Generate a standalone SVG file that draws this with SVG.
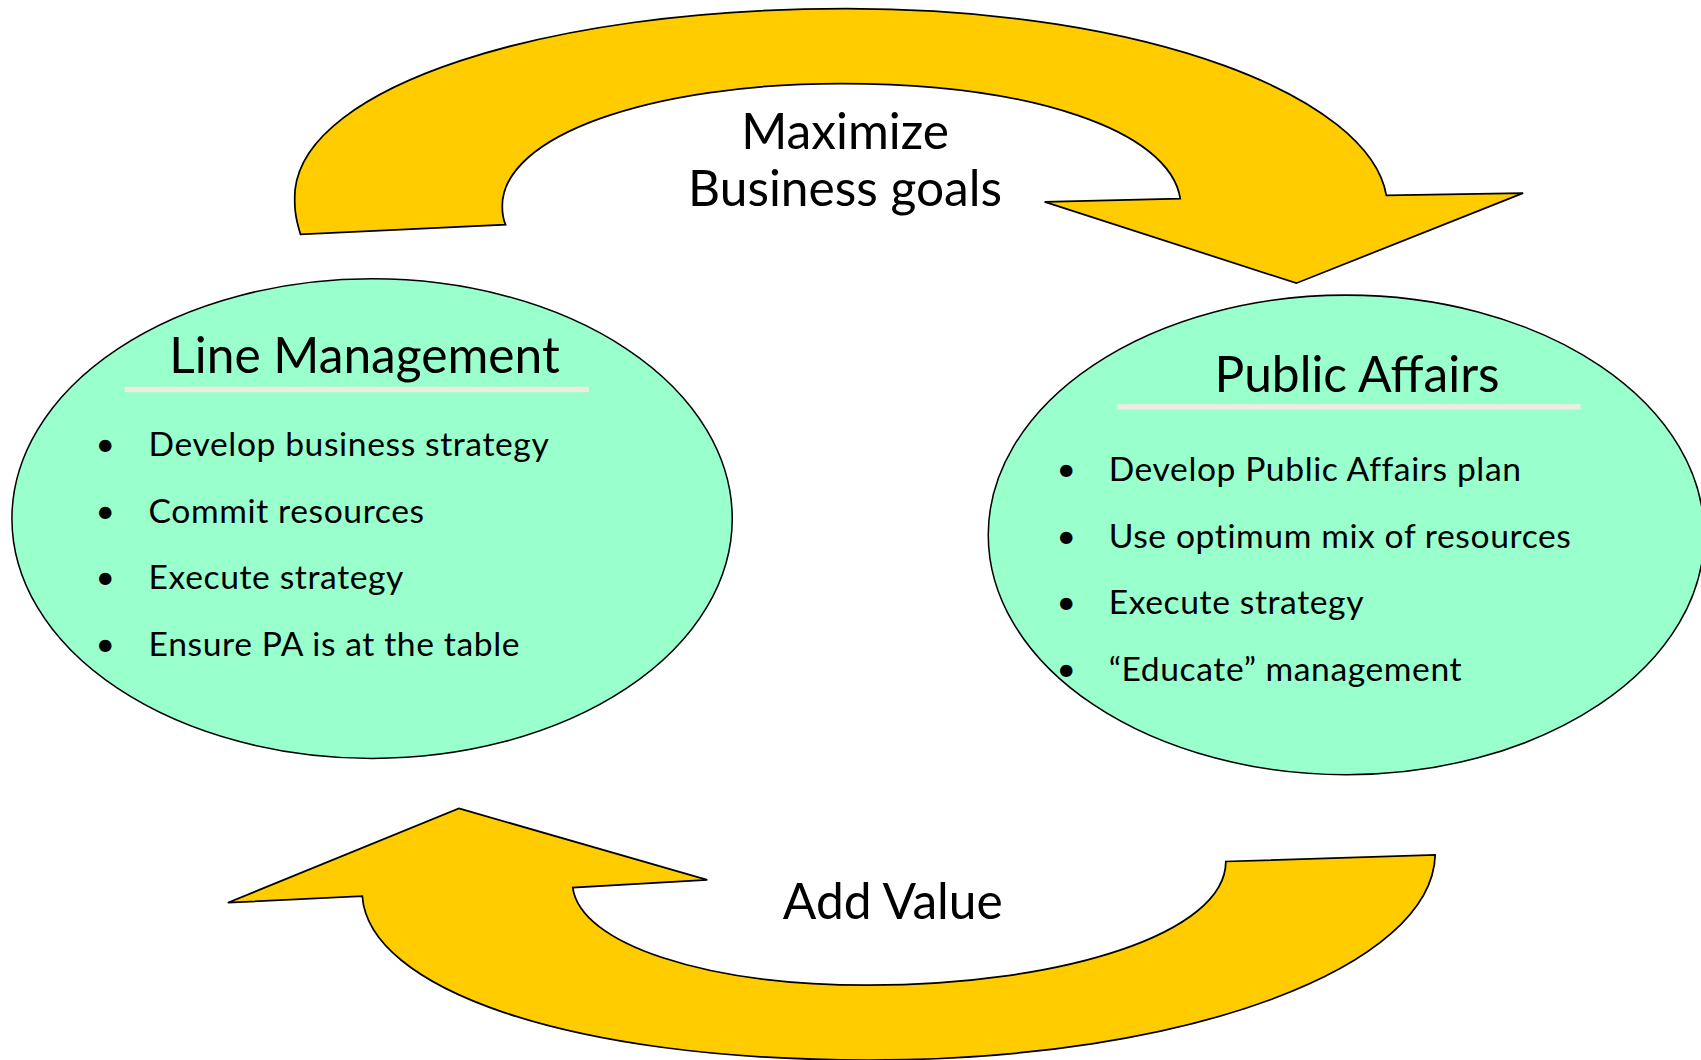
<svg xmlns="http://www.w3.org/2000/svg" width="1701" height="1060" viewBox="0 0 1701 1060">
<style>
.arrow{fill:#FFCC00;stroke:#000;stroke-width:1.6;stroke-linejoin:miter}
.oval{fill:#99FFCC;stroke:#000;stroke-width:1.4}
.bar{fill:#EEECE1}
.t{font-family:Lato,"Liberation Sans",sans-serif;fill:#000}
.big{font-size:45.8px;text-anchor:middle}
.item{font-size:31px;letter-spacing:0.55px}
</style>
<rect width="1701" height="1060" fill="#fff"/>
<g transform="scale(1.0848,1.0850)">
<g id="connectors">
<g id="arrow-maximize">
<path class="arrow" d="M277,216 C272,200 271,190 272,175 C282,80 500,8 780,8 C1060,8 1262,90 1278,180 L1404,178 L1195,261 L963,186 L1088,183 C1078,120 950,77 776,77 C600,77 463,125 463,190 Q463,200 466,207 Z"/>
<text class="t big" x="779" y="137">Maximize</text>
<text class="t big" x="779" y="190">Business goals</text>
</g>
<g id="arrow-addvalue">
<path class="arrow" d="M423,745 L652,811 L528,818 C535,870 650,908 800,908 C980,908 1130,860 1130,794 L1323,788 C1320,890 1100,977 800,977 C520,977 340,910 334,826 L210,832 Z"/>
<text class="t big" x="823" y="847">Add Value</text>
</g>
</g>
<g id="line-management">
<ellipse class="oval" cx="343" cy="478" rx="332" ry="221"/>
<rect class="bar" x="115" y="356.5" width="428" height="5"/>
<text class="t big" x="336" y="344">Line Management</text>
<text class="t item" x="88" y="420">•</text><text class="t item" x="137" y="420">Develop business strategy</text>
<text class="t item" x="88" y="482">•</text><text class="t item" x="137" y="482">Commit resources</text>
<text class="t item" x="88" y="543">•</text><text class="t item" x="137" y="543">Execute strategy</text>
<text class="t item" x="88" y="605">•</text><text class="t item" x="137" y="605">Ensure PA is at the table</text>
</g>
<g id="public-affairs">
<ellipse class="oval" cx="1241" cy="493" rx="330" ry="221"/>
<rect class="bar" x="1030" y="372.5" width="427" height="5"/>
<text class="t big" x="1251" y="361">Public Affairs</text>
<text class="t item" x="974" y="443">•</text><text class="t item" x="1022" y="443">Develop Public Affairs plan</text>
<text class="t item" x="974" y="505">•</text><text class="t item" x="1022" y="505">Use optimum mix of resources</text>
<text class="t item" x="974" y="566">•</text><text class="t item" x="1022" y="566">Execute strategy</text>
<text class="t item" x="974" y="628">•</text><text class="t item" x="1022" y="628">“Educate” management</text>
</g>
</g>
</svg>
